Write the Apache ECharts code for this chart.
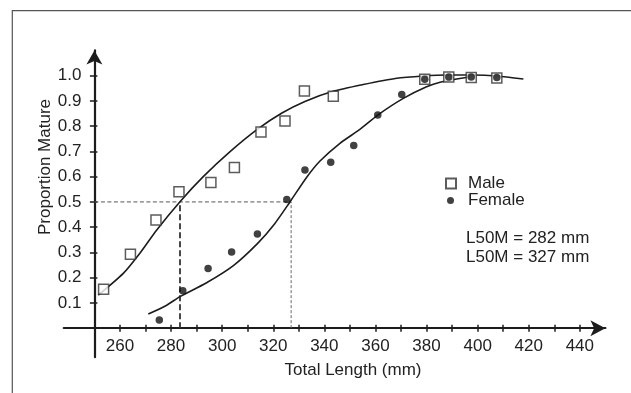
<!DOCTYPE html>
<html><head><meta charset="utf-8">
<script src="https://cdn.jsdelivr.net/npm/echarts@6/dist/echarts.min.js"></script>
<style>html,body{margin:0;padding:0;background:#fff}#c{width:631px;height:393px}</style>
</head><body><div id="c"></div>
<script>
// ---- data ----
const maleX = [253.6, 264.1, 274.1, 283.1, 295.6, 304.8, 315.2, 324.6, 332.2, 343.5, 379.3, 388.7, 397.5, 407.5];
const maleY = [0.154, 0.293, 0.428, 0.540, 0.577, 0.636, 0.777, 0.821, 0.939, 0.919, 0.986, 0.995, 0.993, 0.991];
const femaleX = [275.4, 284.6, 294.5, 303.7, 313.8, 325.3, 332.4, 342.5, 351.5, 360.9, 370.3, 379.3, 388.7, 397.5, 407.5];
const femaleY = [0.032, 0.148, 0.236, 0.302, 0.373, 0.510, 0.626, 0.657, 0.724, 0.844, 0.926, 0.986, 0.995, 0.995, 0.993];
const maleCurveX = [251.5, 261.3, 267.8, 274.4, 283.5, 292.6, 303.1, 314.0, 323.4, 332.4, 343.4, 355.2, 368.3, 378.7, 387.9, 398.3, 407.5, 417.9];
const maleCurveY = [0.131, 0.217, 0.297, 0.389, 0.501, 0.600, 0.699, 0.789, 0.852, 0.898, 0.938, 0.965, 0.990, 0.999, 1.003, 1.003, 0.999, 0.987];
const femaleCurveX = [271.1, 278.3, 283.5, 293.9, 304.4, 313.8, 320.5, 326.6, 333.1, 338.3, 346.1, 353.9, 360.9, 370.9, 380.0, 385.3, 397.0];
const femaleCurveY = [0.056, 0.091, 0.125, 0.180, 0.248, 0.335, 0.413, 0.501, 0.598, 0.662, 0.732, 0.787, 0.844, 0.910, 0.956, 0.974, 0.996];
const l50MaleDrawn = 283.5;
const l50FemaleDrawn = 327;
const halfLevel = 0.5;
const xTickValues = [260, 270, 280, 290, 300, 310, 320, 330, 340, 350, 360, 370, 380, 390, 400, 410, 420, 430, 440];
const xLabelValues = [260, 280, 300, 320, 340, 360, 380, 400, 420, 440];
const yTickValues = [0.1, 0.2, 0.3, 0.4, 0.5, 0.6, 0.7, 0.8, 0.9, 1.0];
const legendNames = ['Male', 'Female'];
const noteLines = ['L50M = 282 mm', 'L50M = 327 mm'];
const xTitle = 'Total Length (mm)';
const yTitle = 'Proportion Mature';
const yAxisAtX = 250;

// ---- layout ----
const W = 631, H = 393;
const xMin = 238, xMax = 450, yMin = -0.115, yMax = 1.1;
const gridLeft = 63.74, gridRight = 25.6, gridTop = 50.45, gridBottom = 35.8;
const gridW = W - gridLeft - gridRight;
const gridH = H - gridTop - gridBottom;
const yOffset = -(yAxisAtX - xMin) / (xMax - xMin) * gridW;
const xLabelOffset = -(0 - yMin) / (yMax - yMin) * gridH;
const FONT = 'Liberation Sans, Arial, sans-serif';
const INK = '#1c1c1c';

const zip = (a, b) => a.map((v, i) => [v, b[i]]);

const chart = echarts.init(document.getElementById('c'), null, {renderer: 'canvas'});
const baseX = {type: 'value', min: xMin, max: xMax, gridIndex: 0, splitLine: {show: false}, position: 'bottom'};
const baseY = {type: 'value', min: yMin, max: yMax, gridIndex: 0, splitLine: {show: false}, position: 'left', offset: yOffset};

chart.setOption({
  animation: false,
  backgroundColor: '#fff',
  grid: {left: gridLeft, right: gridRight, top: gridTop, bottom: gridBottom},
  xAxis: [
    Object.assign({}, baseX, {
      axisLine: {show: true, onZero: true, onZeroAxisIndex: 0, symbol: ['none', 'arrow'], symbolSize: [12, 15],
        lineStyle: {color: INK, width: 2.2}},
      axisTick: {show: true, inside: false, length: 3.5, customValues: xTickValues, lineStyle: {color: INK, width: 1.5}},
      axisLabel: {show: false}
    }),
    Object.assign({}, baseX, {
      axisLine: {show: false, onZero: true, onZeroAxisIndex: 0},
      axisTick: {show: true, inside: true, length: 3.5, customValues: xTickValues, lineStyle: {color: INK, width: 1.5}},
      axisLabel: {show: false}
    }),
    Object.assign({}, baseX, {
      offset: xLabelOffset,
      axisLine: {show: false, onZero: false},
      axisTick: {show: false},
      axisLabel: {show: true, customValues: xLabelValues, margin: 10, color: '#222', fontSize: 17, fontFamily: FONT}
    })
  ],
  yAxis: [
    Object.assign({}, baseY, {
      axisLine: {show: true, onZero: false, symbol: ['none', 'arrow'], symbolSize: [12, 14],
        lineStyle: {color: INK, width: 2.2}},
      axisTick: {show: true, inside: false, length: 4.5, customValues: yTickValues, lineStyle: {color: INK, width: 1.5}},
      axisLabel: {show: true, customValues: yTickValues, margin: 13, color: '#222', fontSize: 17, fontFamily: FONT,
        formatter: v => v.toFixed(1)}
    }),
    Object.assign({}, baseY, {
      axisLine: {show: false, onZero: false},
      axisTick: {show: true, inside: true, length: 3, customValues: yTickValues, lineStyle: {color: INK, width: 1.5}},
      axisLabel: {show: false}
    })
  ],
  legend: [
    {data: [{name: legendNames[0], icon: 'rect'}], orient: 'vertical', left: 445, top: 175, padding: 0,
      itemWidth: 10, itemHeight: 10, textStyle: {color: '#222', fontSize: 17, fontFamily: FONT, padding: [0, 0, 0, 7]}},
    {data: [{name: legendNames[1], icon: 'circle'}], orient: 'vertical', left: 447, top: 192, padding: 0,
      itemWidth: 7, itemHeight: 7, textStyle: {color: '#222', fontSize: 17, fontFamily: FONT, padding: [0, 0, 0, 9]}}
  ],
  title: {text: noteLines.join('\n'), left: 466, top: 229, padding: 0,
    textStyle: {color: '#222', fontSize: 17, fontWeight: 'normal', fontFamily: FONT, lineHeight: 19}},
  graphic: [
    {type: 'rect', shape: {x: 12.3, y: 10.7, width: 700, height: 500}, style: {fill: 'none', stroke: '#555', lineWidth: 1.2}, silent: true, z: -10},
    {type: 'text', x: 353, y: 370, style: {text: xTitle, fill: '#222', font: '17px ' + FONT, textAlign: 'center', textVerticalAlign: 'middle'}},
    {type: 'text', x: 45, y: 167, rotation: Math.PI / 2, style: {text: yTitle, fill: '#222', font: '17px ' + FONT, textAlign: 'center', textVerticalAlign: 'middle'}}
  ],
  series: [
    {type: 'line', data: [[yAxisAtX, halfLevel], [l50FemaleDrawn, halfLevel]], symbol: 'none', silent: true,
      lineStyle: {color: '#555', width: 1, type: [4, 2.5]}},
    {type: 'line', data: [[l50MaleDrawn, 0], [l50MaleDrawn, halfLevel]], symbol: 'none', silent: true,
      lineStyle: {color: '#333', width: 1.8, type: [6, 3]}},
    {type: 'line', data: [[l50FemaleDrawn, 0], [l50FemaleDrawn, halfLevel]], symbol: 'none', silent: true,
      lineStyle: {color: '#666', width: 1, type: [3, 2]}},
    {type: 'line', data: zip(maleCurveX, maleCurveY), symbol: 'none', smooth: 0.25, silent: true,
      lineStyle: {color: INK, width: 1.6}},
    {type: 'line', data: zip(femaleCurveX, femaleCurveY), symbol: 'none', smooth: 0.25, silent: true,
      lineStyle: {color: INK, width: 1.6}},
    {name: legendNames[0], type: 'scatter', data: zip(maleX, maleY), symbol: 'rect', symbolSize: 10,
      itemStyle: {color: '#fff', borderColor: '#333', borderWidth: 1.5}, z: 3},
    {name: legendNames[1], type: 'scatter', data: zip(femaleX, femaleY), symbol: 'circle', symbolSize: 7.5,
      itemStyle: {color: '#111'}, z: 4}
  ]
});
</script>
</body></html>
